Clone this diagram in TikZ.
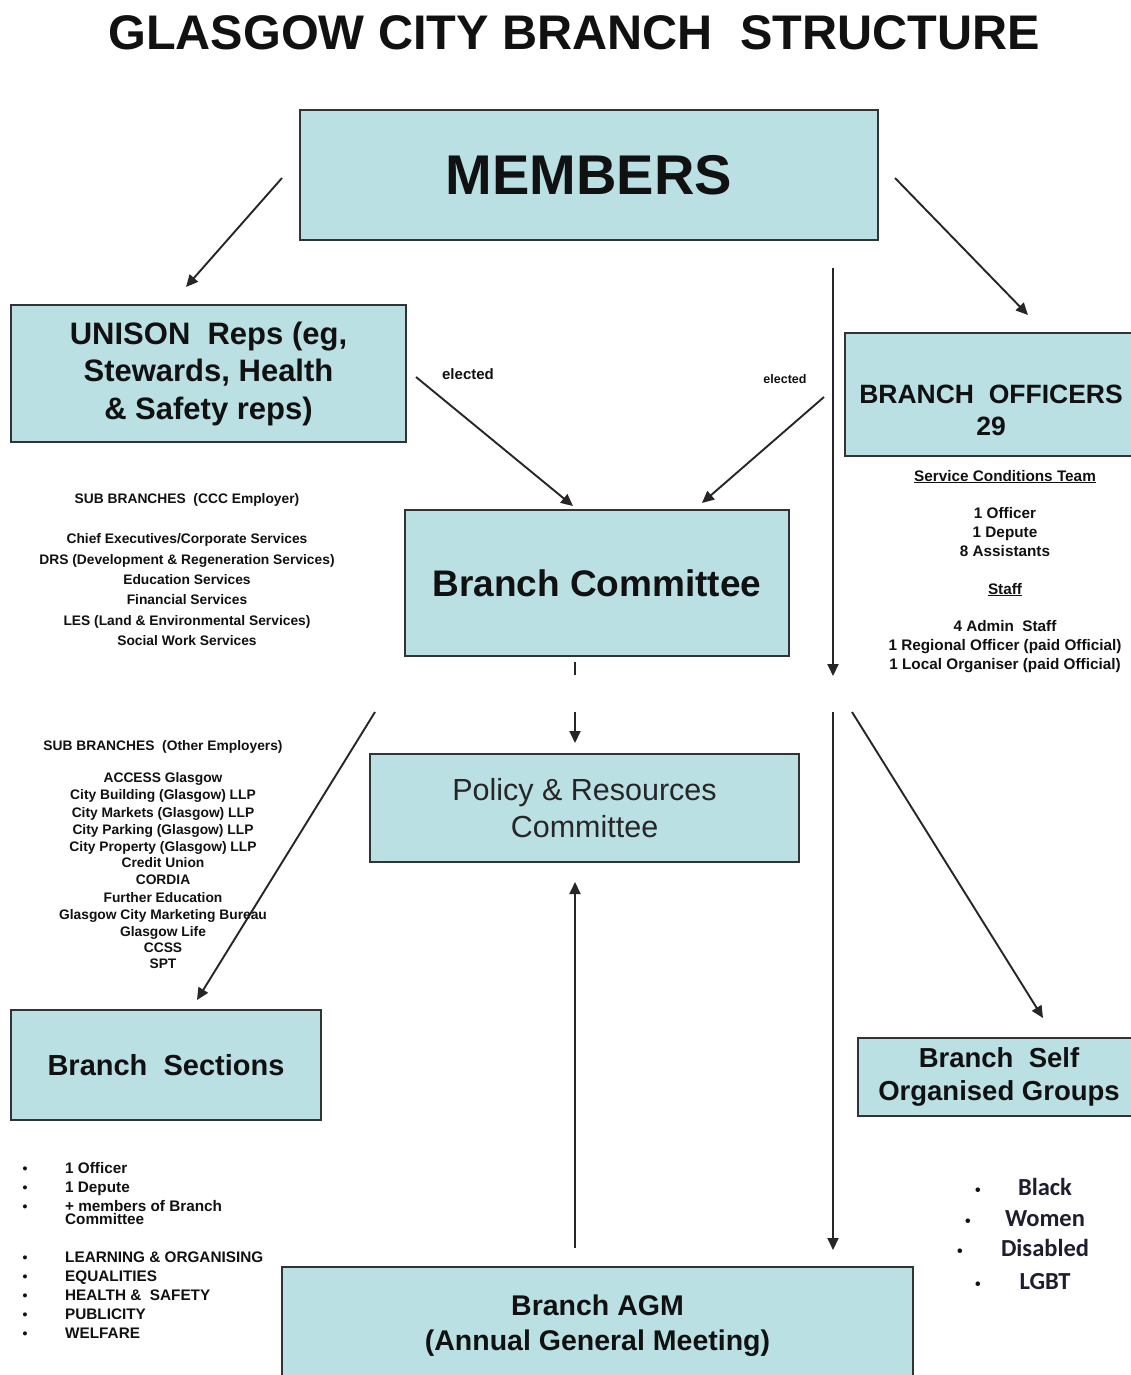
\documentclass[tikz,border=0pt]{standalone}
\usepackage{fontspec}
\setmainfont{Liberation Sans}
\newfontfamily\calfont{Carlito}
\usetikzlibrary{arrows.meta}
\definecolor{boxfill}{HTML}{BAE0E4}
\definecolor{boxline}{HTML}{333333}
\definecolor{ink}{HTML}{111111}
\definecolor{navyink}{HTML}{1E1E30}
\tikzset{
  box/.style={draw=boxline, line width=2.7pt, fill=boxfill, inner sep=0pt, align=center, text=ink},
  conn/.style={line width=1.9pt, draw=black!85, -{Triangle[length=12pt,width=11pt]}},
  plainline/.style={line width=1.9pt, draw=black!85},
  smalltxt/.style={inner sep=0pt, anchor=mid, text=ink, yshift=-3.5pt},
}
\begin{document}
\begin{tikzpicture}[x=1pt,y=-1pt]
\useasboundingbox (0,0) rectangle (1131,1375);
\clip (0,0) rectangle (1131,1375);
\fill[white] (0,0) rectangle (1131,1375);

% title
\node[inner sep=0pt, anchor=base, text=ink, font=\bfseries\fontsize{48.6}{55}\selectfont] (title) at (574,50) {GLASGOW CITY BRANCH\ \ STRUCTURE};

% boxes
\node[box, minimum width=578pt, minimum height=130pt, font=\bfseries\fontsize{56}{60}\selectfont] (members) at (589,175) {MEMBERS};
\node[box, minimum width=395pt, minimum height=137pt, font=\bfseries\fontsize{31}{37.5}\selectfont] (reps) at (208.5,373.5) {UNISON\ \ Reps (eg,\\Stewards, Health\\\& Safety reps)};
\node[box, minimum width=296pt, minimum height=123pt] (officers) at (993,394.5) {};
\node[inner sep=0pt, align=center, text=ink, font=\bfseries\fontsize{26.5}{32}\selectfont] (officerstext) at (991,410) {BRANCH\ \ OFFICERS\\29};
\node[box, minimum width=384pt, minimum height=146pt, font=\bfseries\fontsize{37}{42}\selectfont] (committee) at (597,583) {Branch Committee};
\node[box, minimum width=429pt, minimum height=108pt, font=\fontsize{30.5}{37}\selectfont, text=black!85] (policy) at (584.5,808) {Policy \& Resources\\Committee};
\node[box, minimum width=310pt, minimum height=110pt, font=\bfseries\fontsize{29}{34}\selectfont] (sections) at (166,1065) {Branch\ \ Sections};
\node[box, minimum width=282pt, minimum height=78pt, font=\bfseries\fontsize{27.5}{33}\selectfont] (sog) at (999,1077) {Branch\ \ Self\\Organised Groups};
\node[box, minimum width=631pt, minimum height=118pt, font=\bfseries\fontsize{28.5}{35}\selectfont] (agm) at (597.5,1326) {Branch AGM\\(Annual General Meeting)};

% connector ends
\coordinate (a1s) at (282,178);  \coordinate (a1e) at (186,287);
\coordinate (a2s) at (895,178);  \coordinate (a2e) at (1028,315);
\coordinate (a3s) at (833,268);  \coordinate (a3e) at (833,676);
\coordinate (a4s) at (833,712);  \coordinate (a4e) at (833,1250);
\coordinate (a5s) at (416,377);  \coordinate (a5e) at (573,506);
\coordinate (a6s) at (824,397);  \coordinate (a6e) at (702,503);
\coordinate (a7s) at (575,662);  \coordinate (a7m) at (575,675);
\coordinate (a7n) at (575,712);  \coordinate (a7e) at (575,743);
\coordinate (a8s) at (375,712);  \coordinate (a8e) at (197,1000);
\coordinate (a9s) at (852,712);  \coordinate (a9e) at (1043,1018);
\coordinate (a10s) at (575,1248); \coordinate (a10e) at (575,882);

\draw[conn] (a1s) -- (a1e);
\draw[conn] (a2s) -- (a2e);
\draw[conn] (a3s) -- (a3e);
\draw[conn] (a4s) -- (a4e);
\draw[conn] (a5s) -- (a5e);
\draw[conn] (a6s) -- (a6e);
\draw[plainline] (a7s) -- (a7m);
\draw[conn] (a7n) -- (a7e);
\draw[conn] (a8s) -- (a8e);
\draw[conn] (a9s) -- (a9e);
\draw[conn] (a10s) -- (a10e);

% elected labels
\node[smalltxt, font=\bfseries\fontsize{15}{17}\selectfont] (el1) at (468,373) {elected};
\node[smalltxt, font=\bfseries\fontsize{12.5}{15}\selectfont] (el2) at (785,377) {elected};

% CCC sub branches
\foreach \yy/\tt [count=\i] in {
  497/{SUB BRANCHES\ \ (CCC Employer)},
  537/{Chief Executives/Corporate Services},
  558/{DRS (Development \& Regeneration Services)},
  578/{Education Services},
  598/{Financial Services},
  619/{LES (Land \& Environmental Services)},
  639/{Social Work Services}}
  \node[smalltxt, font=\bfseries\fontsize{13.8}{16}\selectfont] (ccc\i) at (187,\yy) {\tt};

% other employers
\foreach \yy/\tt [count=\i] in {
  744/{SUB BRANCHES\ \ (Other Employers)},
  776/{ACCESS Glasgow},
  793/{City Building (Glasgow) LLP},
  811/{City Markets (Glasgow) LLP},
  828/{City Parking (Glasgow) LLP},
  845/{City Property (Glasgow) LLP},
  861/{Credit Union},
  878/{CORDIA},
  896/{Further Education},
  913/{Glasgow City Marketing Bureau},
  930/{Glasgow Life},
  946/{CCSS},
  962/{SPT}}
  \node[smalltxt, font=\bfseries\fontsize{13.8}{16}\selectfont] (oth\i) at (163,\yy) {\tt};

% officers details
\foreach \yy/\tt [count=\i] in {
  475/{\underline{Service Conditions Team}},
  512/{1 Officer},
  531/{1 Depute},
  550/{8 Assistants},
  588/{\underline{Staff}},
  625/{4 Admin\ \ Staff},
  644/{1 Regional Officer (paid Official)},
  663/{1 Local Organiser (paid Official)}}
  \node[smalltxt, font=\bfseries\fontsize{15.3}{17}\selectfont] (off\i) at (1005,\yy) {\tt};

% branch sections list
\foreach \yy/\tt/\bb [count=\i] in {
  1167/{1 Officer}/1,
  1186/{1 Depute}/1,
  1205/{+ members of Branch}/1,
  1218/{Committee}/0,
  1256/{LEARNING \& ORGANISING}/1,
  1275/{EQUALITIES}/1,
  1294/{HEALTH \&\ \ SAFETY}/1,
  1313/{PUBLICITY}/1,
  1332/{WELFARE}/1}
  {
  \node[smalltxt, anchor=mid west, font=\bfseries\fontsize{15.3}{17}\selectfont] (sec\i) at (65,\yy) {\tt};
  \ifnum\bb=1
    \node[smalltxt, font=\bfseries\fontsize{14}{17}\selectfont] (secb\i) at (25,\yy) {\textbullet};
  \fi
  }

% self organised groups list
\foreach \yy/\tt/\bx [count=\i] in {
  1189/{Black}/978,
  1220/{Women}/968,
  1250/{Disabled}/960,
  1283/{LGBT}/978}
  {
  \node[smalltxt, font=\calfont\bfseries\fontsize{24.5}{28}\selectfont, text=navyink] (sog\i) at (1045,\yy) {\tt};
  \node[smalltxt, font=\bfseries\fontsize{16}{18}\selectfont] (sogb\i) at (\bx,\yy) {\textbullet};
  }
\end{tikzpicture}
\end{document}
